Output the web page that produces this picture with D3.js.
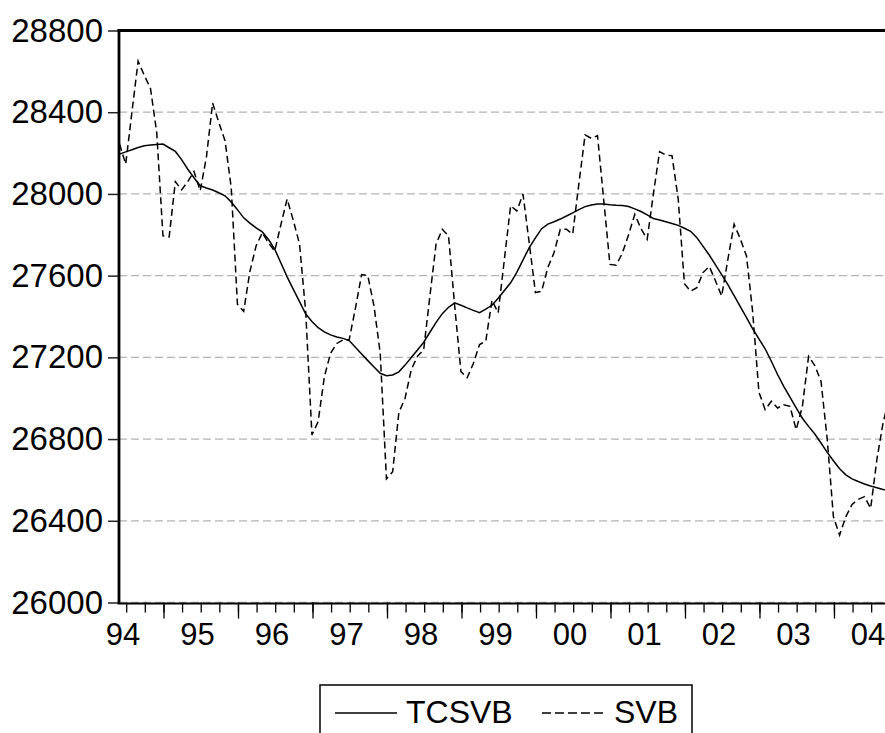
<!DOCTYPE html>
<html><head><meta charset="utf-8">
<script src="https://cdn.jsdelivr.net/npm/d3@7"></script>
<style>body{margin:0;background:#fff;overflow:hidden}</style>
</head><body>
<svg id="c" width="885" height="733"></svg>
<script>
// monthly observations, index 0 = first month shown
const tcsvb = [28195,28206,28216,28227,28236,28239,28242,28244,28226,28208,
28168,28121,28079,28040,28029,28019,28006,27991,27960,27923,
27883,27857,27834,27814,27777,27730,27662,27594,27533,27473,
27412,27376,27345,27325,27310,27300,27293,27282,27249,27216,
27184,27153,27122,27110,27114,27129,27162,27199,27236,27274,
27323,27371,27414,27445,27467,27455,27442,27430,27419,27436,
27455,27489,27527,27565,27616,27677,27737,27785,27830,27852,
27864,27877,27892,27907,27923,27938,27946,27951,27951,27947,
27944,27943,27938,27927,27914,27897,27880,27872,27864,27855,
27846,27832,27817,27786,27743,27701,27653,27605,27556,27502,
27448,27394,27340,27290,27242,27181,27116,27058,27005,26953,
26902,26862,26825,26781,26735,26694,26655,26625,26605,26592,
26580,26570,26562,26553,26548];
const svb = [28244,28146,28400,28650,28580,28515,28300,27795,27790,28060,
28020,28060,28110,28015,28180,28445,28350,28260,28030,27460,
27425,27620,27745,27810,27760,27720,27850,27975,27870,27755,
27420,26820,26886,27105,27220,27268,27285,27287,27440,27605,
27600,27450,27220,26605,26640,26930,27000,27140,27205,27238,
27500,27755,27827,27794,27450,27130,27100,27170,27263,27279,
27480,27418,27680,27942,27917,27999,27760,27517,27524,27640,
27713,27827,27827,27803,28050,28289,28272,28285,27970,27655,
27651,27710,27800,27900,27830,27778,28000,28207,28190,28187,
27975,27560,27524,27541,27615,27645,27575,27500,27680,27852,
27780,27696,27420,27030,26944,26985,26952,26968,26960,26846,
26960,27205,27160,27083,26800,26420,26330,26420,26480,26505,
26518,26461,26700,26880,27000];
const yTicks = [26000,26400,26800,27200,27600,28000,28400,28800];
const yearLabels = ["94","95","96","97","98","99","00","01","02","03","04"];
const seriesNames = ["TCSVB","SVB"];

const svg = d3.select("#c");
const L = 119, T = 30.5, B = 602.5, step = 6.208;
const x = d3.scaleLinear().domain([0, 124]).range([119.5, 119.5 + 124*step]);
const y = d3.scaleLinear().domain([26000, 28800]).range([B, T]);
const font = "'Liberation Sans', Arial, sans-serif";

// grid
svg.append("g").selectAll("line").data(yTicks.slice(0, -1)).join("line")
  .attr("x1", L).attr("x2", 885).attr("y1", d => y(d)).attr("y2", d => y(d))
  .attr("stroke", "#b4b4b4").attr("stroke-width", 1.3).attr("stroke-dasharray", "8,4");

// lines
const idx = d3.range(svb.length);
const line = arr => d3.line().x(i => x(i)).y(i => y(arr[i]))(idx);
svg.append("path").attr("d", line(tcsvb)).attr("fill", "none")
  .attr("stroke", "#000").attr("stroke-width", 1.5);
svg.append("path").attr("d", line(svb)).attr("fill", "none")
  .attr("stroke", "#000").attr("stroke-width", 1.5).attr("stroke-dasharray", "7,4");

// y axis
const ya = svg.append("g").attr("transform", `translate(${L},0)`)
  .call(d3.axisLeft(y).tickValues(yTicks).tickSize(11).tickPadding(5).tickFormat(d3.format("d")));
ya.select(".domain").remove();
ya.selectAll(".tick line").attr("stroke", "#222").attr("stroke-width", 1.5);
ya.selectAll("text").attr("font-family", font).attr("font-size", 33).attr("fill", "#000");

// x ticks
const smallTicks = d3.range(1.16, 124, 3);
const longTicks = d3.range(7.17, 124, 12);
svg.append("g").selectAll("line").data(smallTicks).join("line")
  .attr("x1", d => x(d)).attr("x2", d => x(d)).attr("y1", B).attr("y2", B + 10)
  .attr("stroke", "#000").attr("stroke-width", 1.3);
svg.append("g").selectAll("line").data(longTicks).join("line")
  .attr("x1", d => x(d)).attr("x2", d => x(d)).attr("y1", B).attr("y2", B + 16)
  .attr("stroke", "#000").attr("stroke-width", 1.3);
svg.append("g").selectAll("text").data(yearLabels).join("text")
  .attr("x", (d, k) => x(0.56 + 12*k)).attr("y", 645)
  .attr("text-anchor", "middle").attr("font-family", font).attr("font-size", 31)
  .text(d => d);

// frame
svg.append("line").attr("x1", L).attr("x2", L).attr("y1", T - 1.5).attr("y2", B + 1.5)
  .attr("stroke", "#000").attr("stroke-width", 2.8);
svg.append("line").attr("x1", L - 1.4).attr("x2", 885).attr("y1", T).attr("y2", T)
  .attr("stroke", "#000").attr("stroke-width", 2.8);
svg.append("line").attr("x1", L - 1.4).attr("x2", 885).attr("y1", B + 1).attr("y2", B + 1)
  .attr("stroke", "#000").attr("stroke-width", 2.2);

// legend
const lg = svg.append("g");
lg.append("rect").attr("x", 320).attr("y", 685).attr("width", 372).attr("height", 70)
  .attr("fill", "none").attr("stroke", "#000").attr("stroke-width", 1.5);
lg.append("line").attr("x1", 335).attr("x2", 397).attr("y1", 713).attr("y2", 713)
  .attr("stroke", "#000").attr("stroke-width", 1.5);
lg.append("line").attr("x1", 542).attr("x2", 604).attr("y1", 713).attr("y2", 713)
  .attr("stroke", "#000").attr("stroke-width", 1.5).attr("stroke-dasharray", "9,4");
lg.append("text").attr("x", 406).attr("y", 723).attr("font-family", font).attr("font-size", 32).text(seriesNames[0]);
lg.append("text").attr("x", 614).attr("y", 723).attr("font-family", font).attr("font-size", 32).text(seriesNames[1]);
</script>
</body></html>
